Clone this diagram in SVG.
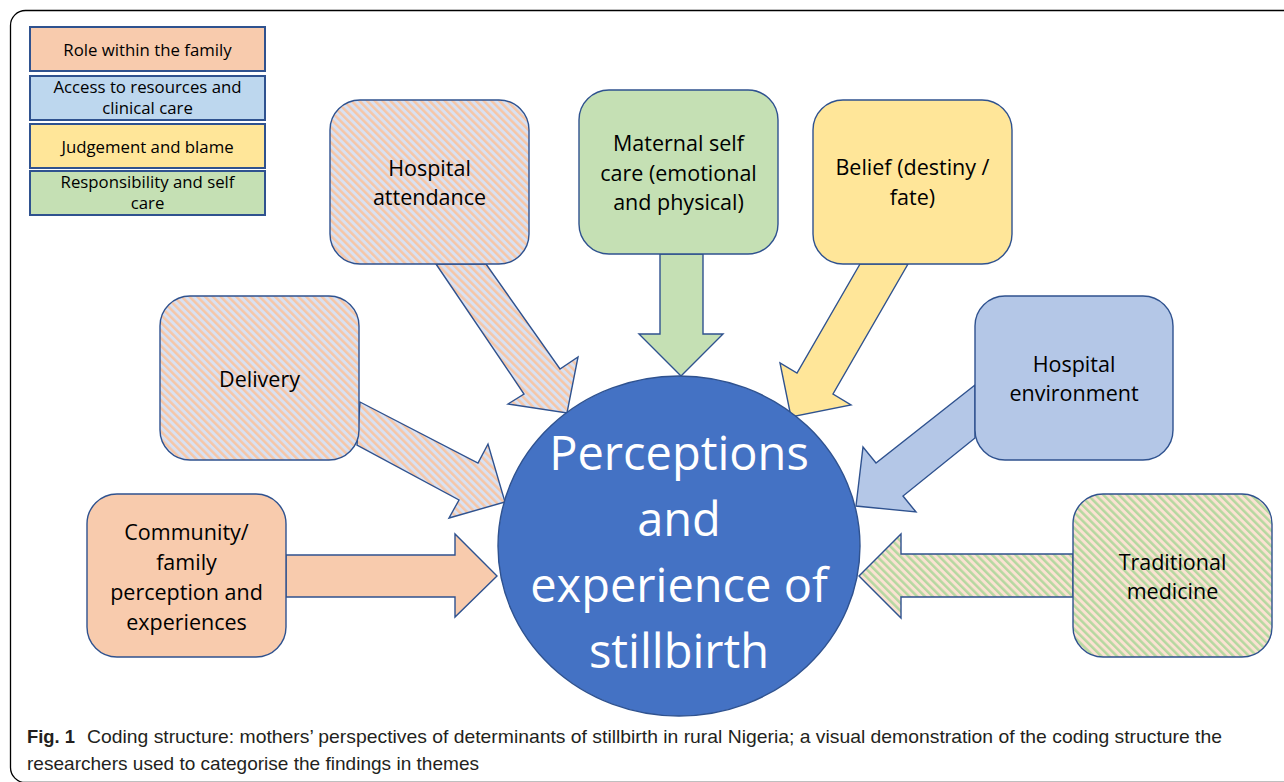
<svg xmlns="http://www.w3.org/2000/svg" width="1284" height="782" viewBox="0 0 1284 782">
  <defs>
    <!-- diagonal hatch: peach stripes on pale blue -->
    <pattern id="hatchPeach" width="5.5" height="5.5" patternUnits="userSpaceOnUse" patternTransform="rotate(-45)">
      <rect width="5.5" height="5.5" fill="#D9E1F2"/>
      <rect width="2.5" height="5.5" fill="#F6C6A6"/>
    </pattern>
    <!-- diagonal hatch: green stripes on pale peach -->
    <pattern id="hatchGreen" width="5.5" height="5.5" patternUnits="userSpaceOnUse" patternTransform="rotate(-45)">
      <rect width="5.5" height="5.5" fill="#FBE2D2"/>
      <rect width="2.5" height="5.5" fill="#B5D8A0"/>
    </pattern>
    <style>
      .edge { stroke: #2F528F; stroke-width: 1.4; stroke-linejoin: miter; }
      .box { stroke: #2F528F; stroke-width: 1.4; }
      .leg { stroke: #2F528F; stroke-width: 2; }
      .peach { fill: #F8CBAD; }
      .blue { fill: #B4C7E7; }
      .lblue { fill: #BDD7EE; }
      .yellow { fill: #FFE699; }
      .green { fill: #C5E0B4; }
      .hp { fill: url(#hatchPeach); }
      .hg { fill: url(#hatchGreen); }
      .lt { font-family: "Open Sans", "Liberation Sans", sans-serif; font-size: 16.8px; fill: #000; text-anchor: middle; }
      .nt { font-family: "Open Sans", "Liberation Sans", sans-serif; font-size: 21.5px; fill: #000; text-anchor: middle; }
      .ct { font-family: "Open Sans", "Liberation Sans", sans-serif; font-size: 47px; fill: #fff; text-anchor: middle; }
      .cap { font-family: "Liberation Sans", "DejaVu Sans", sans-serif; font-size: 19px; fill: #231F20; }
    </style>
  </defs>

  <!-- outer frame -->
  <rect x="10.5" y="10.5" width="1300" height="772" rx="15" fill="#fff" stroke="#000" stroke-width="1.3"/>

  <!-- legend -->
  <g id="legend">
    <rect class="leg peach" x="30" y="27" width="235" height="44"/>
    <text class="lt" x="147.5" y="56">Role within the family</text>
    <rect class="leg lblue" x="30" y="76" width="235" height="44"/>
    <text class="lt" x="147.5" y="93">Access to resources and</text>
    <text class="lt" x="147.5" y="114">clinical care</text>
    <rect class="leg yellow" x="30" y="124" width="235" height="44"/>
    <text class="lt" x="147.5" y="153">Judgement and blame</text>
    <rect class="leg green" x="30" y="171" width="235" height="44"/>
    <text class="lt" x="147.5" y="188">Responsibility and self</text>
    <text class="lt" x="147.5" y="209">care</text>
  </g>

  <!-- block arrows pointing into the central theme -->
  <g id="connectors">
    <path id="arrow-attendance" class="edge hp" d="M436,264 L524,394 L508,404 L567,413 L578,357 L560,369 L486,264 Z"/>
    <path id="arrow-maternal" class="edge green" d="M660,254 L660,334 L639,334 L681,376 L723,334 L703,334 L703,254 Z"/>
    <path id="arrow-belief" class="edge yellow" d="M860,264 L797,373 L780,363 L791,417 L851,405 L833,394 L908,264 Z"/>
    <path id="arrow-delivery" class="edge hp" d="M360,402 L478,463 L488,444 L505,502 L449,518 L459,500 L357,445 Z"/>
    <path id="arrow-environment" class="edge blue" d="M975,385 L876,463 L863,447 L856,506 L916,512 L903,496 L975,438 Z"/>
    <path id="arrow-community" class="edge peach" d="M286,555 L455,555 L455,534 L497,576 L455,617 L455,597 L286,597 Z"/>
    <path id="arrow-traditional" class="edge hg" d="M1073,554 L901,554 L901,534 L859,576 L901,618 L901,597 L1073,597 Z"/>
  </g>

  <g id="node-attendance">
    <rect class="box hp" x="330" y="100" width="199" height="164" rx="30"/>
    <text class="nt" x="429.5" y="176">Hospital</text>
    <text class="nt" x="429.5" y="205">attendance</text>
  </g>

  <g id="node-maternal">
    <rect class="box green" x="579" y="90" width="199" height="164" rx="30"/>
    <text class="nt" x="678.5" y="151">Maternal self</text>
    <text class="nt" x="678.5" y="181">care (emotional</text>
    <text class="nt" x="678.5" y="210">and physical)</text>
  </g>

  <g id="node-belief">
    <rect class="box yellow" x="813" y="100" width="199" height="164" rx="30"/>
    <text class="nt" x="912.5" y="175">Belief (destiny /</text>
    <text class="nt" x="912.5" y="205">fate)</text>
  </g>

  <g id="node-delivery">
    <rect class="box hp" x="160" y="296" width="199" height="164" rx="30"/>
    <text class="nt" x="259.5" y="387">Delivery</text>
  </g>

  <g id="node-environment">
    <rect class="box blue" x="975" y="296" width="198" height="164" rx="30"/>
    <text class="nt" x="1074" y="372">Hospital</text>
    <text class="nt" x="1074" y="401">environment</text>
  </g>

  <g id="node-community">
    <rect class="box peach" x="87" y="494" width="199" height="163" rx="30"/>
    <text class="nt" x="186.5" y="540">Community/</text>
    <text class="nt" x="186.5" y="570">family</text>
    <text class="nt" x="186.5" y="600">perception and</text>
    <text class="nt" x="186.5" y="630">experiences</text>
  </g>

  <g id="node-traditional">
    <rect class="box hg" x="1073" y="494" width="199" height="163" rx="30"/>
    <text class="nt" x="1172.5" y="570">Traditional</text>
    <text class="nt" x="1172.5" y="599">medicine</text>
  </g>

  <g id="node-centre">
    <ellipse cx="679" cy="546" rx="181" ry="170" fill="#4472C4" stroke="#2F528F" stroke-width="1.4"/>
    <text class="ct" x="679" y="470">Perceptions</text>
    <text class="ct" x="679" y="536">and</text>
    <text class="ct" x="679" y="602">experience of</text>
    <text class="ct" x="679" y="668">stillbirth</text>
  </g>

  <!-- figure caption -->
  <g id="caption">
    <text class="cap" x="27" y="743" font-weight="bold" textLength="48" lengthAdjust="spacingAndGlyphs">Fig. 1</text>
    <text class="cap" x="87" y="743" textLength="1135" lengthAdjust="spacingAndGlyphs">Coding structure: mothers’ perspectives of determinants of stillbirth in rural Nigeria; a visual demonstration of the coding structure the</text>
    <text class="cap" x="27" y="770" textLength="452" lengthAdjust="spacingAndGlyphs">researchers used to categorise the findings in themes</text>
  </g>
</svg>
